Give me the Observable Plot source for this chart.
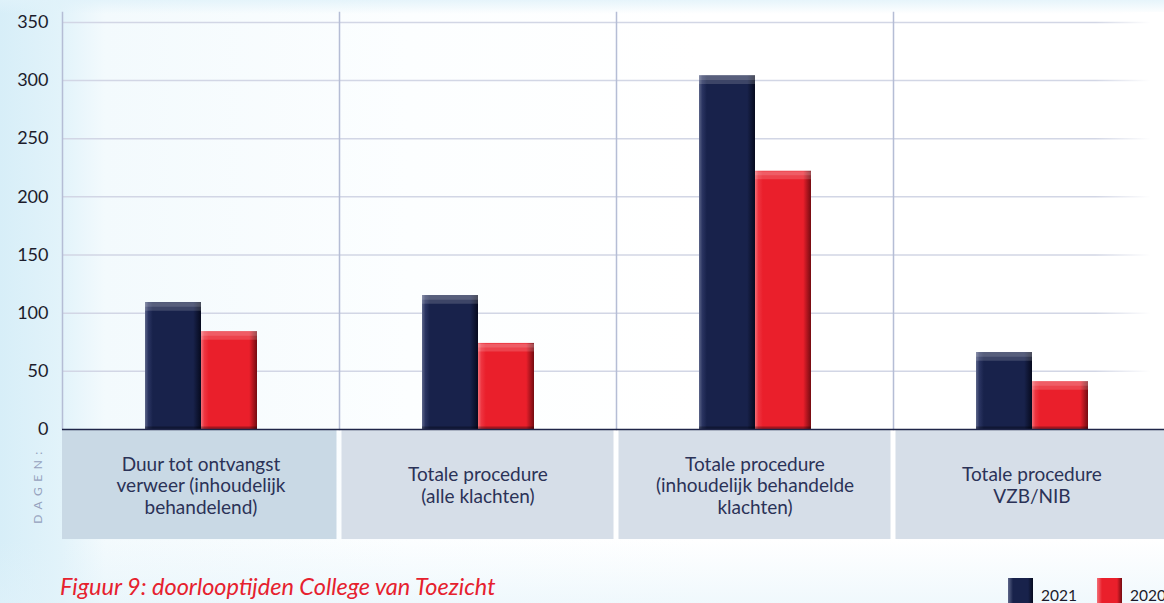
<!DOCTYPE html>
<html><head><meta charset="utf-8">
<script src="https://cdn.jsdelivr.net/npm/d3@7"></script>
<script src="https://cdn.jsdelivr.net/npm/@observablehq/plot@0.6"></script>
<style>
html,body{margin:0;padding:0;width:1164px;height:603px;overflow:hidden;}
body{position:relative;font-family:Lato,sans-serif;
  background: linear-gradient(to bottom, rgba(224,242,250,0.8) 0px, rgba(255,255,255,0) 14px, rgba(255,255,255,0) 540px, rgba(225,242,250,0.5) 603px),
              linear-gradient(to right, #d7eef8 0%, #e2f3fa 5.3%, #f3fafd 9%, #fcfeff 35%, #ffffff 60%, #ffffff 100%);}
#chart{position:absolute;left:0;top:0;width:1170px;}
#chart svg{max-width:none !important;}
#caption{position:absolute;left:60px;top:572px;font:italic 23.5px Lato,sans-serif;color:#e6212e;white-space:nowrap;}
#dagen{position:absolute;left:37px;top:485px;transform:translate(-50%,-50%) rotate(-90deg);font:12px Lato,sans-serif;letter-spacing:5.5px;color:#95a1bd;white-space:nowrap;}
#legend{position:absolute;left:1008px;top:578px;display:flex;align-items:flex-end;font:15.5px Lato,sans-serif;color:#1c1c2c;white-space:nowrap;}
.sw{width:25px;height:25px;margin-right:8px;}
.it{display:flex;align-items:flex-end;margin-right:20px;}
.it span{line-height:15px;}
#fade{position:absolute;left:1095px;top:12px;width:69px;height:412px;background:linear-gradient(to right, rgba(255,255,255,0), rgba(255,255,255,1) 80%);pointer-events:none;}
</style></head>
<body>
<div id="chart"></div>
<div id="fade"></div>
<div id="dagen">DAGEN:</div>
<div id="caption">Figuur 9: doorlooptijden College van Toezicht</div>
<div id="legend"></div>
<script>
const categories = [
  "Duur tot ontvangst\nverweer (inhoudelijk\nbehandelend)",
  "Totale procedure\n(alle klachten)",
  "Totale procedure\n(inhoudelijk behandelde\nklachten)",
  "Totale procedure\nVZB/NIB"
];
const years = ["2021", "2020"];
const values2021 = [109, 115, 304, 66];
const values2020 = [84, 74, 222, 41];
const yTicks = [0, 50, 100, 150, 200, 250, 300, 350];

const NAVY = "#18224b", RED = "#ea1f2b";

const data = categories.flatMap((c, i) => [
  {cat: c, year: "2021", value: values2021[i]},
  {cat: c, year: "2020", value: values2020[i]}
]);
const d2021 = data.filter(d => d.year === "2021");
const d2020 = data.filter(d => d.year === "2020");
const panels = categories.map((c, i) => ({cat: c, idx: i}));

const chart = Plot.plot({
  width: 1170, height: 545,
  marginLeft: 62, marginRight: 0, marginTop: 12, marginBottom: 116,
  style: {background: "transparent", fontFamily: "Lato, sans-serif", overflow: "visible", maxWidth: "none"},
  fx: {domain: categories, padding: 0, axis: null},
  x: {domain: years, paddingInner: 0, paddingOuter: 1.47, axis: null},
  y: {domain: [0, 358.5], axis: null},
  marks: [
    Plot.ruleY(yTicks.filter(d => d > 0), {stroke: "#d2d6e5", strokeWidth: 1.5}),
    Plot.frame({anchor: "left", stroke: "#b5bdd5", strokeWidth: 1.5}),
    Plot.rect(panels.filter(d => d.idx === 0), {fx: "cat", y1: -0.9, y2: -94.6, fill: "#c9d9e5", insetLeft: 0, insetRight: 2.5}),
    Plot.rect(panels.filter(d => d.idx > 0), {fx: "cat", y1: -0.9, y2: -94.6, fill: "#d6dee8", insetLeft: 2.5, insetRight: 2.5}),
    Plot.barY(d2021, {fx: "cat", x: "year", y: "value", fill: "url(#gNavy)"}),
    Plot.barY(d2020, {fx: "cat", x: "year", y: "value", fill: "url(#gRed)"}),
    Plot.tickY(data, {fx: "cat", x: "year", y: "value", stroke: "white", strokeOpacity: 0.16, strokeWidth: 8, dy: 4}),
    Plot.tickY(data, {fx: "cat", x: "year", y: "value", stroke: "white", strokeOpacity: 0.14, strokeWidth: 4, dy: 2}),
    Plot.tickY(data, {fx: "cat", x: "year", y: 0, stroke: "black", strokeOpacity: 0.3, strokeWidth: 3, dy: -1.5}),
    Plot.ruleY([0], {stroke: "#1f2548", strokeWidth: 1.5}),
    Plot.text(panels, {fx: "cat", y: -48, text: "cat", lineAnchor: "middle", lineHeight: 1.14, fontSize: 19, fill: "#2b3257"}),
    Plot.axisY({ticks: yTicks, tickSize: 0, tickPadding: 14, fontSize: 18, fill: "#1c1c2c", label: null})
  ]
});

const svg = d3.select(chart);
const defs = svg.insert("defs", ":first-child");
function grad(id, stops) {
  const g = defs.append("linearGradient").attr("id", id).attr("x1", 0).attr("x2", 1).attr("y1", 0).attr("y2", 0);
  stops.forEach(([o, c]) => g.append("stop").attr("offset", o).attr("stop-color", c));
}
grad("gNavy", [[0, "#5d6689"], [0.06, "#2a3461"], [0.14, NAVY], [0.86, NAVY], [1, "#060a1e"]]);
grad("gRed", [[0, "#f36f77"], [0.06, "#ee3440"], [0.14, RED], [0.86, RED], [1, "#740b11"]]);
document.getElementById("chart").appendChild(chart);

const legend = d3.select("#legend");
[["2021", "linear-gradient(to right,#5d6689,#18224b 20%,#18224b 80%,#060a1e)"],
 ["2020", "linear-gradient(to right,#f36f77,#ea1f2b 20%,#ea1f2b 80%,#740b11)"]].forEach(([y, bg]) => {
  const it = legend.append("div").attr("class", "it");
  it.append("div").attr("class", "sw").style("background", bg);
  it.append("span").text(y);
});
</script>
</body></html>
